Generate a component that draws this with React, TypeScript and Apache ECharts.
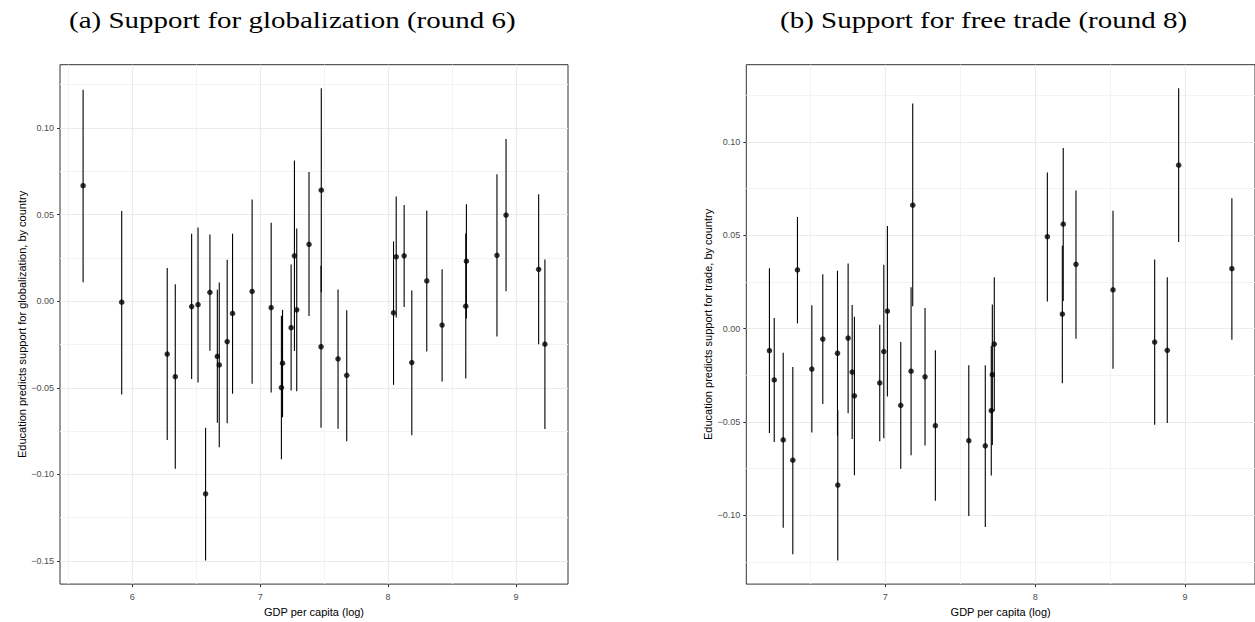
import React, { useEffect, useRef } from "react";
import * as echarts from "echarts";

// ---------- Panel (a): Support for globalization (round 6) ----------
const gdpA = [5.615, 5.917, 6.273, 6.336, 6.464, 6.514, 6.573, 6.607, 6.665, 6.68, 6.742, 6.784, 6.937, 7.086, 7.166, 7.175, 7.242, 7.268, 7.286, 7.382, 7.476, 7.478, 7.609, 7.677, 8.043, 8.064, 8.126, 8.186, 8.303, 8.423, 8.608, 8.613, 8.852, 8.923, 9.178, 9.227];
const estA = [0.0667, -0.0006, -0.0305, -0.0436, -0.0031, -0.002, -0.1112, 0.0051, -0.0319, -0.0368, -0.0233, -0.0071, 0.0056, -0.0037, -0.0499, -0.0358, -0.0153, 0.0262, -0.005, 0.0328, -0.0263, 0.0641, -0.0333, -0.0428, -0.0067, 0.0256, 0.0262, -0.0354, 0.0117, -0.0138, -0.0029, 0.0231, 0.0265, 0.0497, 0.0184, -0.0248];
const lowA = [0.0109, -0.0539, -0.0801, -0.0968, -0.0449, -0.047, -0.1497, -0.0286, -0.0702, -0.0843, -0.0704, -0.0535, -0.0476, -0.0527, -0.0913, -0.067, -0.0516, -0.0288, -0.052, -0.0086, -0.073, 0.0052, -0.0736, -0.0808, -0.0483, -0.0094, -0.0033, -0.0774, -0.029, -0.0463, -0.0447, -0.01, -0.0204, 0.0058, -0.0248, -0.0738];
const highA = [0.1221, 0.052, 0.0191, 0.0098, 0.0389, 0.0425, -0.073, 0.0385, 0.0066, 0.0108, 0.0239, 0.0389, 0.0587, 0.0453, -0.0084, -0.005, 0.0212, 0.0812, 0.0419, 0.0746, 0.0205, 0.1229, 0.0068, -0.0052, 0.0345, 0.0604, 0.0556, 0.0062, 0.0524, 0.0185, 0.0391, 0.056, 0.0733, 0.0936, 0.0617, 0.0241];

// ---------- Panel (b): Support for free trade (round 8) ----------
const gdpB = [6.227, 6.259, 6.319, 6.383, 6.414, 6.51, 6.583, 6.681, 6.683, 6.752, 6.779, 6.794, 6.963, 6.99, 7.014, 7.103, 7.172, 7.183, 7.265, 7.334, 7.557, 7.667, 7.707, 7.714, 7.727, 8.081, 8.181, 8.187, 8.272, 8.519, 8.797, 8.881, 8.957, 9.312];
const estB = [-0.0118, -0.0275, -0.0596, -0.0705, 0.0314, -0.0217, -0.0056, -0.0132, -0.0838, -0.0051, -0.0233, -0.036, -0.0291, -0.0123, 0.0094, -0.0411, -0.0228, 0.0661, -0.0258, -0.052, -0.06, -0.0628, -0.0439, -0.0247, -0.0083, 0.0492, 0.0078, 0.0559, 0.0344, 0.0208, -0.0072, -0.0116, 0.0875, 0.0321];
const lowB = [-0.0559, -0.0607, -0.1067, -0.1208, 0.0028, -0.0557, -0.0404, -0.0573, -0.1242, -0.0453, -0.0591, -0.0785, -0.0603, -0.0587, -0.0363, -0.075, -0.0679, 0.012, -0.0626, -0.0922, -0.1004, -0.1062, -0.0787, -0.0623, -0.0443, 0.0145, -0.0293, 0.0148, -0.0055, -0.0215, -0.0515, -0.0506, 0.0464, -0.006];
const highB = [0.0323, 0.0057, -0.0129, -0.0205, 0.0598, 0.0125, 0.0291, 0.031, -0.0436, 0.0349, 0.0127, 0.0063, 0.002, 0.0342, 0.0549, -0.0072, 0.0222, 0.1205, 0.011, -0.0116, -0.0196, -0.0196, -0.0092, 0.0129, 0.0275, 0.0836, 0.0444, 0.0967, 0.0739, 0.0631, 0.037, 0.0275, 0.1287, 0.0698];

// ---------- Ticks / labels ----------
const xTicksA = [6, 7, 8, 9];
const xMinorA = [5.5, 6.5, 7.5, 8.5];
const yTicksA = [-0.15, -0.1, -0.05, 0, 0.05, 0.1];
const yMinorA = [-0.125, -0.075, -0.025, 0.025, 0.075, 0.125];
const xTicksB = [7, 8, 9];
const xMinorB = [6.5, 7.5, 8.5];
const yTicksB = [-0.1, -0.05, 0, 0.05, 0.1];
const yMinorB = [-0.125, -0.075, -0.025, 0.025, 0.075, 0.125];

const titleA = "(a) Support for globalization (round 6)";
const titleB = "(b) Support for free trade (round 8)";
const xNameA = "GDP per capita (log)";
const xNameB = "GDP per capita (log)";
const yNameA = "Education predicts support for globalization, by country";
const yNameB = "Education predicts support for trade, by country";

const SANS = "'Liberation Sans', Arial, Helvetica, sans-serif";
const SERIF = "'Liberation Serif', 'Times New Roman', serif";

function expand(vals: number[]): [number, number] {
  const lo = Math.min(...vals);
  const hi = Math.max(...vals);
  const d = (hi - lo) * 0.05;
  return [lo - d, hi + d];
}

const fmtY = (v: number) => (v < 0 ? "\u2212" : "") + Math.abs(v).toFixed(2);

export default function App() {
  const ref = useRef<HTMLDivElement>(null);

  useEffect(() => {
    if (!ref.current) return;
    const chart = echarts.init(ref.current, undefined, { renderer: "svg" });

    const xRA = expand(gdpA);
    const yRA = expand([...lowA, ...highA]);
    const xRB = expand(gdpB);
    const yRB = expand([...lowB, ...highB]);

    const tickLabel = { color: "#4d4d4d", fontSize: 9, fontFamily: SANS };

    const majorX = (grid: number, r: [number, number], ticks: number[], name: string) => ({
      type: "value",
      gridIndex: grid,
      position: "bottom",
      min: r[0],
      max: r[1],
      name,
      nameLocation: "middle",
      nameGap: 17,
      nameTextStyle: { color: "#000", fontSize: 11, fontFamily: SANS },
      axisLine: { show: false, onZero: false },
      axisTick: { show: true, length: 3, customValues: ticks, lineStyle: { color: "#333", width: 1 } },
      axisLabel: { ...tickLabel, margin: 8, customValues: ticks, formatter: (v: number) => String(v) },
      splitLine: { show: true, lineStyle: { color: "#ebebeb", width: 1.1 } },
    });
    const minorX = (grid: number, r: [number, number], ticks: number[]) => ({
      type: "value",
      gridIndex: grid,
      position: "bottom",
      min: r[0],
      max: r[1],
      axisLine: { show: false, onZero: false },
      axisTick: { show: false, customValues: ticks },
      axisLabel: { show: false, customValues: ticks },
      splitLine: { show: true, lineStyle: { color: "#f3f3f3", width: 1 } },
    });
    const majorY = (grid: number, r: [number, number], ticks: number[], name: string) => ({
      type: "value",
      gridIndex: grid,
      position: "left",
      min: r[0],
      max: r[1],
      name,
      nameLocation: "middle",
      nameGap: 32,
      nameRotate: 90,
      nameTextStyle: { color: "#000", fontSize: 11, fontFamily: SANS },
      axisLine: { show: false, onZero: false },
      axisTick: { show: true, length: 3, customValues: ticks, lineStyle: { color: "#333", width: 1 } },
      axisLabel: { ...tickLabel, margin: 6, customValues: ticks, formatter: fmtY },
      splitLine: { show: true, lineStyle: { color: "#ebebeb", width: 1.1 } },
    });
    const minorY = (grid: number, r: [number, number], ticks: number[]) => ({
      type: "value",
      gridIndex: grid,
      position: "left",
      min: r[0],
      max: r[1],
      axisLine: { show: false, onZero: false },
      axisTick: { show: false, customValues: ticks },
      axisLabel: { show: false, customValues: ticks },
      splitLine: { show: true, lineStyle: { color: "#f3f3f3", width: 1 } },
    });

    const errRender = (params: any, api: any) => {
      const x = api.value(0);
      const p1 = api.coord([x, api.value(1)]);
      const p2 = api.coord([x, api.value(2)]);
      return {
        type: "line",
        shape: { x1: p1[0], y1: p1[1], x2: p2[0], y2: p2[1] },
        style: { stroke: "#000", lineWidth: 1.1 },
      };
    };

    const gridBase = { show: true, borderColor: "#333", borderWidth: 1, backgroundColor: "transparent", containLabel: false };

    chart.setOption({
      animation: false,
      backgroundColor: "#fff",
      grid: [
        { ...gridBase, left: 60, top: 64.7, width: 508, height: 525.3 },
        { ...gridBase, left: 746.3, top: 64.7, width: 509, height: 525.3 },
      ],
      xAxis: [
        minorX(0, xRA, xMinorA),
        majorX(0, xRA, xTicksA, xNameA),
        minorX(1, xRB, xMinorB),
        majorX(1, xRB, xTicksB, xNameB),
      ],
      yAxis: [
        minorY(0, yRA, yMinorA),
        majorY(0, yRA, yTicksA, yNameA),
        minorY(1, yRB, yMinorB),
        majorY(1, yRB, yTicksB, yNameB),
      ],
      graphic: [
        {
          type: "text",
          x: 69,
          y: 21,
          scaleX: 1.26,
          style: { text: titleA, fontSize: 23, fontFamily: SERIF, fill: "#000", align: "left", textAlign: "left", verticalAlign: "middle", textVerticalAlign: "middle" },
        },
        {
          type: "text",
          x: 780,
          y: 21,
          scaleX: 1.26,
          style: { text: titleB, fontSize: 23, fontFamily: SERIF, fill: "#000", align: "left", textAlign: "left", verticalAlign: "middle", textVerticalAlign: "middle" },
        },
      ],
      series: [
        {
          type: "custom",
          xAxisIndex: 1,
          yAxisIndex: 1,
          renderItem: errRender,
          encode: { x: 0, y: [1, 2] },
          data: gdpA.map((g, i) => [g, lowA[i], highA[i]]),
          z: 3,
        },
        {
          type: "scatter",
          xAxisIndex: 1,
          yAxisIndex: 1,
          symbol: "circle",
          symbolSize: 5.5,
          itemStyle: { color: "#000" },
          data: gdpA.map((g, i) => [g, estA[i]]),
          z: 4,
        },
        {
          type: "custom",
          xAxisIndex: 3,
          yAxisIndex: 3,
          renderItem: errRender,
          encode: { x: 0, y: [1, 2] },
          data: gdpB.map((g, i) => [g, lowB[i], highB[i]]),
          z: 3,
        },
        {
          type: "scatter",
          xAxisIndex: 3,
          yAxisIndex: 3,
          symbol: "circle",
          symbolSize: 5.5,
          itemStyle: { color: "#000" },
          data: gdpB.map((g, i) => [g, estB[i]]),
          z: 4,
        },
      ],
    });

    return () => chart.dispose();
  }, []);

  return (
    <div
      ref={ref}
      style={{ position: "absolute", left: 0, top: 0, width: 1255, height: 622, background: "#fff" }}
    />
  );
}
